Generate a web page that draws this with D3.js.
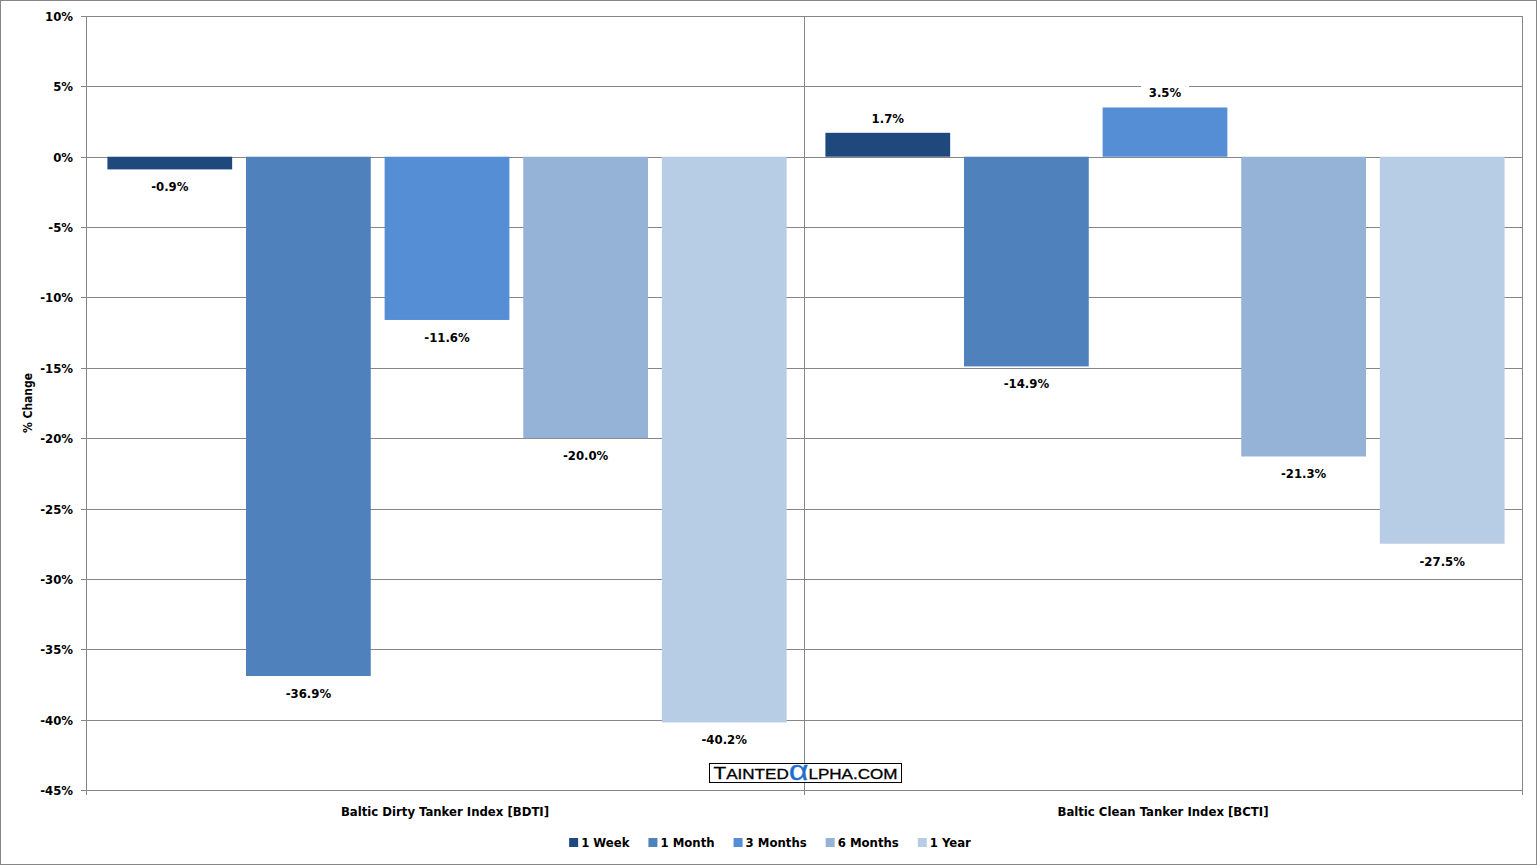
<!DOCTYPE html>
<html>
<head>
<meta charset="utf-8">
<script src="https://cdn.jsdelivr.net/npm/d3@7"></script>
<style>
  body { margin: 0; background: #fff; }
  svg text { font-family: "DejaVu Sans Condensed", "DejaVu Sans", sans-serif; font-weight: bold; fill: #000; }
</style>
</head>
<body>
<div id="chart"></div>
<script>
// data
const categories = ["Baltic Dirty Tanker Index [BDTI]", "Baltic Clean Tanker Index [BCTI]"];
const periods = ["1 Week", "1 Month", "3 Months", "6 Months", "1 Year"];
const bdtiValues = [-0.9, -36.9, -11.6, -20.0, -40.2];
const bctiValues = [1.7, -14.9, 3.5, -21.3, -27.5];
const yTicks = [10, 5, 0, -5, -10, -15, -20, -25, -30, -35, -40, -45];
const colors = ["#1F497D", "#4F81BD", "#558ED5", "#95B3D7", "#B9CDE5"];

const svgWidth = 1537, svgHeight = 865;
const plotLeft = 86, plotRight = 1522, plotTop = 16, plotBottom = 790;

const svg = d3.select("#chart")
    .append("svg")
    .attr("width", svgWidth)
    .attr("height", svgHeight);

// dotted fill for the 1 Year series
const defs = svg.append("defs");
const pat = defs.append("pattern")
    .attr("id", "dots")
    .attr("width", 4).attr("height", 4)
    .attr("patternUnits", "userSpaceOnUse");
pat.append("rect").attr("width", 4).attr("height", 4).attr("fill", colors[4]);
pat.append("rect").attr("x", 1).attr("y", 1).attr("width", 1).attr("height", 1).attr("fill", "#A9C4E8");
pat.append("rect").attr("x", 3).attr("y", 3).attr("width", 1).attr("height", 1).attr("fill", "#AFC8E8");

// outer border
svg.append("rect")
    .attr("x", 0.5).attr("y", 0.5)
    .attr("width", svgWidth - 1).attr("height", svgHeight - 1)
    .attr("fill", "#fff").attr("stroke", "#868686");

const y = d3.scaleLinear().domain([-45, 10]).range([plotBottom, plotTop]);
const x0 = d3.scaleBand().domain(categories).range([plotLeft, plotRight]);
const x1 = d3.scaleBand().domain(periods).range([2, x0.bandwidth() + 2])
    .paddingInner(0.1).paddingOuter(0.14);

// horizontal gridlines
svg.append("g")
    .selectAll("line")
    .data(yTicks)
    .join("line")
    .attr("x1", plotLeft - 5).attr("x2", plotRight)
    .attr("y1", d => Math.round(y(d)) + 0.5).attr("y2", d => Math.round(y(d)) + 0.5)
    .attr("stroke", "#868686");

// vertical category lines
const xLines = [plotLeft, plotLeft + x0.bandwidth(), plotRight];
svg.append("g")
    .selectAll("line")
    .data(xLines)
    .join("line")
    .attr("x1", d => Math.round(d) + 0.5).attr("x2", d => Math.round(d) + 0.5)
    .attr("y1", plotTop).attr("y2", plotBottom + 5)
    .attr("stroke", "#868686");

// y tick labels
svg.append("g")
    .selectAll("text")
    .data(yTicks)
    .join("text")
    .attr("x", 73)
    .attr("y", d => y(d) + 5)
    .attr("text-anchor", "end")
    .style("font-size", "13px")
    .text(d => d + "%");

// y axis title
svg.append("text")
    .attr("transform", `translate(32, ${(plotTop + plotBottom) / 2}) rotate(-90)`)
    .attr("text-anchor", "middle")
    .style("font-size", "12px")
    .text("% Change");

// category labels
svg.append("g")
    .selectAll("text")
    .data(categories)
    .join("text")
    .attr("x", d => x0(d) + x0.bandwidth() / 2)
    .attr("y", 816)
    .attr("text-anchor", "middle")
    .style("font-size", "13px")
    .text(d => d);

// bars
const seriesByCat = [bdtiValues, bctiValues];
const barData = [];
categories.forEach((c, ci) => {
    periods.forEach((p, pi) => {
        barData.push({ cat: c, period: p, idx: pi, value: seriesByCat[ci][pi] });
    });
});

svg.append("g")
    .selectAll("rect")
    .data(barData)
    .join("rect")
    .attr("x", d => x0(d.cat) + x1(d.period))
    .attr("width", x1.bandwidth())
    .attr("y", d => y(Math.max(0, d.value)))
    .attr("height", d => Math.abs(y(d.value) - y(0)))
    .attr("fill", d => d.idx === 4 ? "url(#dots)" : colors[d.idx]);

// data labels with white backgrounds
const labels = svg.append("g")
    .selectAll("g")
    .data(barData)
    .join("g")
    .attr("transform", d => {
        const cx = x0(d.cat) + x1(d.period) + x1.bandwidth() / 2;
        const ty = d.value < 0 ? y(d.value) + 22 : y(d.value) - 10;
        return `translate(${cx}, ${ty})`;
    });
labels.append("rect")
    .attr("x", -24).attr("y", -14)
    .attr("width", 48).attr("height", 19)
    .attr("fill", "#fff");
labels.append("text")
    .attr("text-anchor", "middle")
    .style("font-size", "13px")
    .text(d => d.value.toFixed(1) + "%");

// watermark
const wm = svg.append("g").attr("transform", "translate(709.5, 763.5)");
wm.append("rect").attr("width", 192).attr("height", 19)
    .attr("fill", "#fff").attr("stroke", "#000");
const wt = wm.append("text")
    .attr("x", 4).attr("y", 15)
    .attr("textLength", 184)
    .attr("lengthAdjust", "spacingAndGlyphs")
    .style("font-family", "'Liberation Sans', sans-serif")
    .style("font-weight", "normal")
    .style("stroke", "#000").style("stroke-width", 0.3);
wt.append("tspan").style("font-size", "17px").text("T");
wt.append("tspan").style("font-size", "14px").text("AINTED");
wt.append("tspan").style("font-size", "28px").style("fill", "#1f6fd0")
    .style("stroke", "#1f6fd0").attr("dy", 1).text("α");
wt.append("tspan").style("font-size", "14px").attr("dy", -1).text("LPHA.COM");

// legend
const legend = svg.append("g");
const items = legend.selectAll("g")
    .data(periods)
    .join("g");
items.append("rect")
    .attr("width", 9).attr("height", 9)
    .attr("y", -9)
    .attr("fill", (d, i) => i === 4 ? "url(#dots)" : colors[i]);
items.append("text")
    .attr("x", 12)
    .attr("y", 0)
    .style("font-size", "13px")
    .text(d => d);
let widths = [];
items.each(function () {
    widths.push(12 + d3.select(this).select("text").node().getComputedTextLength());
});
const gap = 19;
const total = d3.sum(widths) + gap * (widths.length - 1);
let pos = 770 - total / 2;
items.attr("transform", (d, i) => {
    const t = `translate(${pos}, 847)`;
    pos += widths[i] + gap;
    return t;
});
</script>
</body>
</html>
